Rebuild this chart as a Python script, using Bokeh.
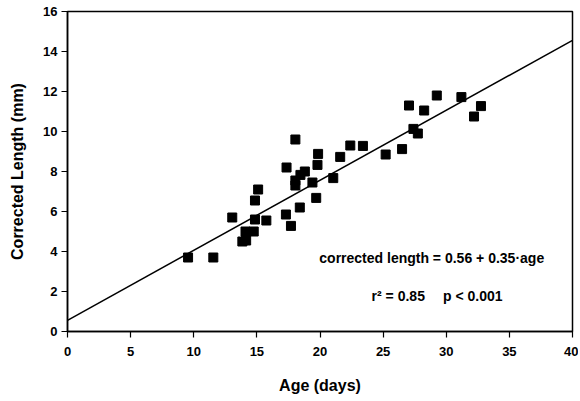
from bokeh.plotting import figure
from bokeh.models import ColumnDataSource, Range1d, FixedTicker
from bokeh.embed import file_html
from bokeh.resources import INLINE
from bokeh.core.properties import value

# data
age = [9.55, 11.55, 13.85, 14.15, 14.1, 14.75, 13.05, 14.85, 15.75, 14.85, 15.1,
       17.3, 17.7, 18.4, 19.7, 17.35, 18.05, 18.05, 18.05, 18.45, 18.8, 19.4,
       19.85, 19.8, 21.05, 21.6, 22.4, 23.4, 25.2, 26.5, 27.05, 27.4, 27.75,
       28.25, 29.25, 31.2, 32.2, 32.75]
length = [3.7, 3.7, 4.5, 4.55, 5.0, 5.0, 5.7, 5.6, 5.55, 6.55, 7.1,
          5.85, 5.28, 6.2, 6.68, 8.2, 9.6, 7.55, 7.3, 7.83, 8.0, 7.45,
          8.88, 8.33, 7.67, 8.73, 9.3, 9.28, 8.85, 9.12, 11.3, 10.13, 9.9,
          11.05, 11.8, 11.72, 10.75, 11.27]

intercept = 0.56
slope = 0.35
fit_x = [0, 40]

x_ticks = [0, 5, 10, 15, 20, 25, 30, 35, 40]
y_ticks = [0, 2, 4, 6, 8, 10, 12, 14, 16]

eq_text = ["corrected length = 0.56 + 0.35\u00b7age", "r\u00b2 = 0.85", "p < 0.001"]
eq_x = [28.85, 26.2, 32.1]
eq_y = [3.7, 1.8, 1.8]

FONT = "Liberation Sans"

p = figure(width=578, height=398, output_backend="svg", toolbar_location=None,
           x_range=Range1d(0, 40), y_range=Range1d(0, 16),
           min_border_left=67, min_border_right=6, min_border_top=11, min_border_bottom=67)

p.grid.visible = False
p.outline_line_color = "black"
p.outline_line_width = 1.5
p.background_fill_color = "white"
p.border_fill_color = "white"

for ax in (p.xaxis[0], p.yaxis[0]):
    ax.axis_line_width = 1.5
    ax.major_tick_in = 0
    ax.major_tick_out = 6
    ax.major_tick_line_width = 1.2
    ax.minor_tick_in = 0
    ax.minor_tick_out = 0
    ax.major_label_text_font = FONT
    ax.major_label_text_font_style = "bold"
    ax.major_label_text_font_size = "13px"
    ax.major_label_text_color = "black"
    ax.axis_label_text_font = FONT
    ax.axis_label_text_font_style = "bold"
    ax.axis_label_text_font_size = "16px"
    ax.axis_label_text_color = "black"

p.xaxis[0].ticker = FixedTicker(ticks=x_ticks)
p.yaxis[0].ticker = FixedTicker(ticks=y_ticks)
p.xaxis[0].axis_label = "Age (days)"
p.yaxis[0].axis_label = "Corrected Length (mm)"
p.xaxis[0].axis_label_standoff = 18
p.yaxis[0].axis_label_standoff = 14
p.xaxis[0].major_label_standoff = 9
p.yaxis[0].major_label_standoff = 4

fit_y = [intercept + slope * v for v in fit_x]
p.line(fit_x, fit_y, line_color="black", line_width=1.5)

src = ColumnDataSource(dict(x=age, y=length))
p.scatter("x", "y", source=src, marker="square", size=9, fill_color="black", line_color="black")

p.text(eq_x, eq_y, text=eq_text, text_align="center", text_baseline="middle",
       text_font=value(FONT), text_font_style="bold", text_font_size="14px", text_color="black")

open("out.html", "w").write(file_html(p, INLINE))
